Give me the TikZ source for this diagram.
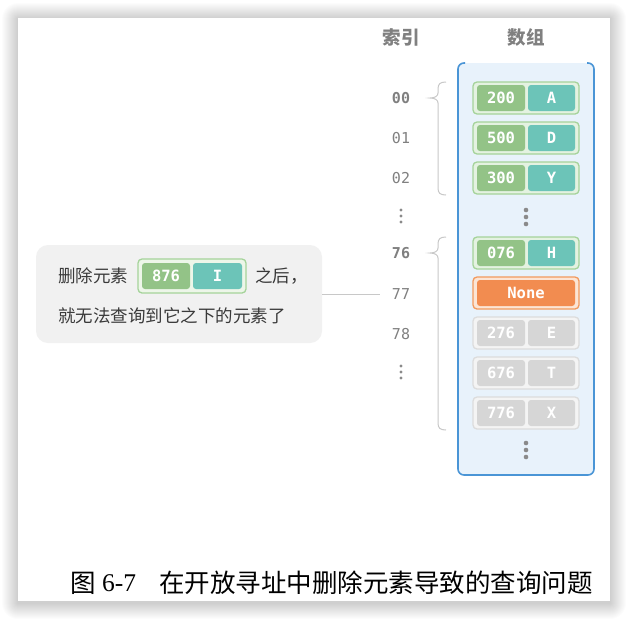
\documentclass[tikz,border=0pt]{standalone}
\usepackage{fontspec}
\setmainfont{Noto Sans CJK SC}
\newfontfamily\cjkf{Noto Sans CJK SC}
\newfontfamily\monof{DejaVu Sans Mono}
\newfontfamily\serf{Liberation Serif}
\definecolor{blueb}{HTML}{4A95D6}
\definecolor{bluef}{HTML}{E8F2FB}
\definecolor{grnb}{HTML}{A5D39A}
\definecolor{grnf}{HTML}{EDF6E9}
\definecolor{grnc}{HTML}{93C387}
\definecolor{tealc}{HTML}{6CC4B8}
\definecolor{gryb}{HTML}{DCDCDC}
\definecolor{gryf}{HTML}{EFEFEF}
\definecolor{gryc}{HTML}{D6D6D6}
\definecolor{orgb}{HTML}{F29A5E}
\definecolor{orgf}{HTML}{FCE5D5}
\definecolor{orgc}{HTML}{F28C50}
\definecolor{idxc}{HTML}{808080}
\definecolor{bracec}{HTML}{C8C8C8}
\definecolor{notef}{HTML}{F1F1F1}
\definecolor{notet}{HTML}{3A3A3A}
\definecolor{dotc}{HTML}{8A8A8A}
\tikzset{
  outerbox/.style={draw, rounded corners=4pt, line width=1.3pt, minimum width=106pt, minimum height=32pt, inner sep=0pt},
  cellbox/.style={rounded corners=3pt, minimum height=26pt, inner sep=0pt, text=white, font=\monof\bfseries\fontsize{15.5}{15.5}\selectfont},
  idxlabel/.style={text=idxc, inner sep=0pt, font=\monof\fontsize{15}{15}\selectfont},
  idxbold/.style={idxlabel, font=\monof\bfseries\fontsize{15}{15}\selectfont},
  header/.style={text=idxc, inner sep=0pt, font=\cjkf\bfseries\fontsize{18.5}{18.5}\selectfont},
  notetext/.style={text=notet, inner sep=0pt, anchor=west, font=\cjkf\fontsize{17.5}{17.5}\selectfont},
  bracestyle/.style={draw=bracec, line width=1pt},
}
\newcommand\arrentry[7]{%
  \node[outerbox, draw=#5, fill=#5!30!white] (#1) at (526,#2) {};
  \node[cellbox, fill=#6, minimum width=48pt] (#1k) at (501,#2) {#3};
  \node[cellbox, fill=#7, minimum width=47pt] (#1v) at (551.5,#2) {#4};
}
\newcommand\mybrace[3]{%
  \draw[bracestyle] (446,#1) .. controls (440,#1) and (438,#1+2) .. (438,#1+7)
    -- (438,#2-5) .. controls (438,#2-2) and (435,#2) .. (430,#2)
    .. controls (435,#2) and (438,#2+2) .. (438,#2+5)
    -- (438,#3-7) .. controls (438,#3-2) and (440,#3) .. (446,#3);
}
\begin{document}
\begin{tikzpicture}[x=1pt,y=-1pt]
\useasboundingbox (0,0) rectangle (628,619);
\fill[white] (0,0) rectangle (628,619);
% page shadow
\foreach \i in {1,...,16}
  \fill[black,opacity=0.012,rounded corners=\i pt] (18-\i,19-\i) rectangle (610+\i,603+\i);
\fill[white] (18,18) rectangle (610,601);

% headers
\node[header] (hidx) at (401,37) {索引};
\node[header] (harr) at (526,37) {数组};

% array background
\fill[bluef, rounded corners=6pt] (458,63) rectangle (594,475);
\draw[blueb, line width=1.6pt, rounded corners=6pt] (465,63) -- (458,63) -- (458,475) -- (594,475) -- (594,63) -- (587,63);

% entries
\arrentry{e0}{98}{200}{A}{grnb}{grnc}{tealc}
\arrentry{e1}{138}{500}{D}{grnb}{grnc}{tealc}
\arrentry{e2}{178}{300}{Y}{grnb}{grnc}{tealc}
\arrentry{e76}{253}{076}{H}{grnb}{grnc}{tealc}
\node[outerbox, draw=orgb, fill=orgf] (e77) at (526,293) {};
\node[cellbox, fill=orgc, minimum width=98pt] (e77v) at (526,293) {None};
\arrentry{e78}{333}{276}{E}{gryb}{gryc}{gryc}
\arrentry{e79}{373}{676}{T}{gryb}{gryc}{gryc}
\arrentry{e80}{413}{776}{X}{gryb}{gryc}{gryc}

% array dots
\foreach \y in {210,217,224} \fill[dotc] (526,\y) circle (2.3pt);
\foreach \y in {443,450,457} \fill[dotc] (526,\y) circle (2.3pt);

% index labels
\node[idxbold] (i00) at (401,98) {00};
\node[idxlabel] (i01) at (401,138) {01};
\node[idxlabel] (i02) at (401,178) {02};
\node[idxbold] (i76) at (401,253) {76};
\node[idxlabel] (i77) at (401,294) {77};
\node[idxlabel] (i78) at (401,334) {78};
\foreach \y in {210,216,222} \fill[dotc] (401,\y) circle (1.7pt);
\foreach \y in {366,372,378} \fill[dotc] (401,\y) circle (1.7pt);

% braces
\mybrace{82}{98}{195}
\mybrace{237}{253}{430}

% callout
\node[fill=notef, rounded corners=12pt, minimum width=286pt, minimum height=98pt, inner sep=0pt] (note) at (179,294) {};
\node[notetext] (t1a) at (58,276) {删除元素};
\node[outerbox, draw=grnb, fill=grnf, minimum width=108pt, minimum height=34pt] (nb) at (192,276) {};
\node[cellbox, fill=grnc, minimum width=48pt] (nbk) at (166,276) {876};
\node[cellbox, fill=tealc, minimum width=49pt] (nbv) at (217.5,276) {I};
\node[notetext] (t1b) at (255,276) {之后，};
\node[notetext] (t2) at (58,316) {就无法查询到它之下的元素了};
\draw[bracec, line width=1pt] (note.east |- i77) -- ([xshift=-12pt]i77.west);

% caption
\node[anchor=west, inner sep=0pt, font=\cjkf\fontsize{25.5}{25.5}\selectfont] (cap1) at (70,583) {图};
\node[anchor=west, inner sep=0pt, font=\serf\fontsize{25.5}{25.5}\selectfont] (cap2) at (102,583) {6-7};
\node[anchor=west, inner sep=0pt, font=\cjkf\fontsize{25.5}{25.5}\selectfont] (cap3) at (159,583) {在开放寻址中删除元素导致的查询问题};
\end{tikzpicture}
\end{document}
